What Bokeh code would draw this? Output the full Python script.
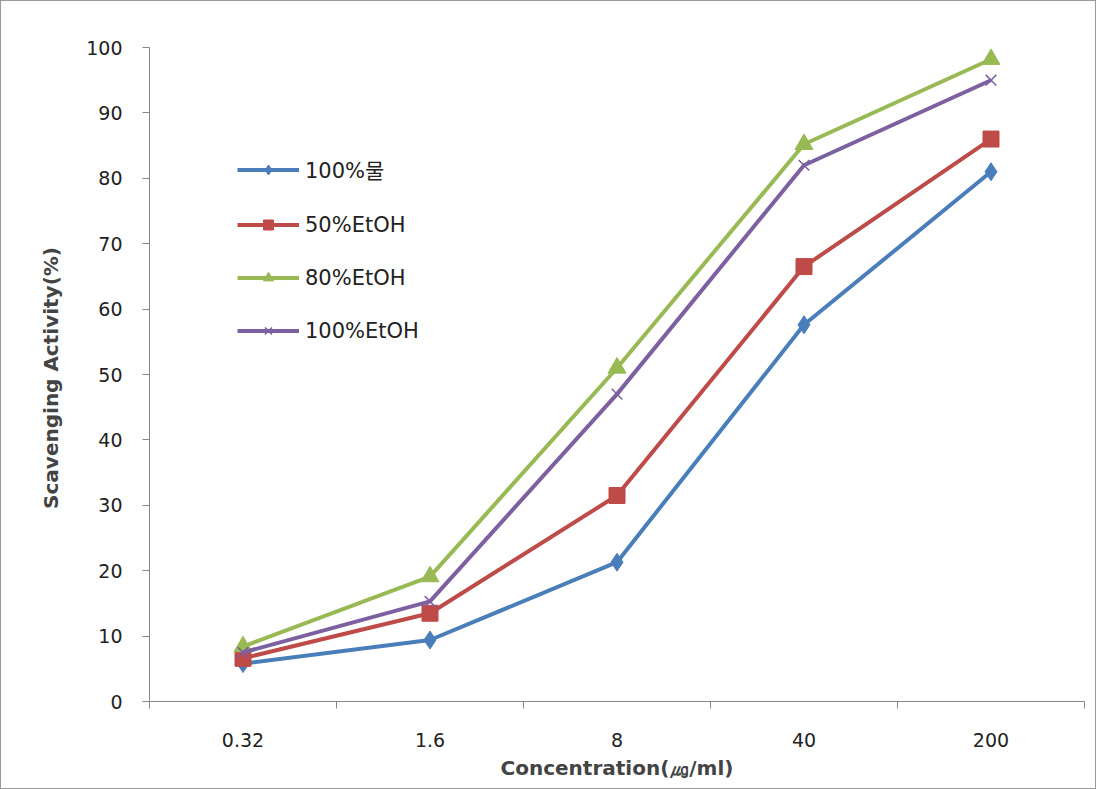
from bokeh.plotting import figure
from bokeh.models import FixedTicker, Legend, LegendItem, Range1d
from bokeh.embed import file_html
from bokeh.resources import INLINE

categories = ["0.32", "1.6", "8", "40", "200"]
water100 = [5.8, 9.4, 21.3, 57.6, 81.0]
etoh50 = [6.6, 13.5, 31.5, 66.5, 86.0]
etoh80 = [8.4, 19.1, 51.0, 85.2, 98.2]
etoh100 = [7.5, 15.3, 47.0, 82.0, 95.0]
series_names = ["100%물", "50%EtOH", "80%EtOH", "100%EtOH"]
colors = ["#4A7EBB", "#BE4B48", "#98B954", "#7D60A0"]

xs = [i + 0.5 for i in range(len(categories))]

p = figure(width=1096, height=789, output_backend="svg", toolbar_location=None,
           x_range=Range1d(0, len(categories)), y_range=Range1d(0, 100),
           min_border_left=148, min_border_right=13, min_border_top=46, min_border_bottom=89)
p.styles = {"border": "1px solid #9a9a9a", "box-sizing": "border-box"}
p.outline_line_color = None
p.xgrid.visible = False
p.ygrid.visible = False
p.background_fill_color = "white"
p.border_fill_color = "white"

tick_font = "DejaVu Sans"
label_font = "DejaVu Sans"

# x axis: labels at category centres, tick marks between categories
p.xaxis.ticker = FixedTicker(ticks=xs, minor_ticks=list(range(len(categories) + 1)))
p.xaxis.major_label_overrides = {x: c for x, c in zip(xs, categories)}
p.xaxis.major_tick_line_color = None
p.xaxis.minor_tick_in = 0
p.xaxis.minor_tick_out = 7
p.xaxis.minor_tick_line_color = "#868686"
p.xaxis.axis_line_color = "#868686"
p.xaxis.major_label_text_font = tick_font
p.xaxis.major_label_text_font_size = "19px"
p.xaxis.major_label_text_color = "#222222"
p.xaxis.major_label_standoff = 24
p.xaxis.axis_label = "Concentration(㎍/ml)"
p.xaxis.axis_label_text_font = label_font
p.xaxis.axis_label_text_font_style = "bold"
p.xaxis.axis_label_text_font_size = "20px"
p.xaxis.axis_label_standoff = 6

p.yaxis.ticker = FixedTicker(ticks=list(range(0, 101, 10)), minor_ticks=[])
p.yaxis.major_tick_in = 0
p.yaxis.major_tick_out = 7
p.yaxis.major_tick_line_color = "#868686"
p.yaxis.axis_line_color = "#868686"
p.yaxis.major_label_text_font = tick_font
p.yaxis.major_label_text_font_size = "19px"
p.yaxis.major_label_text_color = "#222222"
p.yaxis.major_label_standoff = 20
p.yaxis.axis_label = "Scavenging  Activity(%)"
p.yaxis.axis_label_text_font = label_font
p.yaxis.axis_label_text_font_style = "bold"
p.yaxis.axis_label_text_font_size = "20px"
p.yaxis.axis_label_standoff = 20

items = []
lw = 4
r = p.line(xs, water100, line_color=colors[0], line_width=lw)
m = p.scatter(xs, water100, marker="diamond", size=18, fill_color=colors[0], line_color=colors[0])
items.append(LegendItem(label=series_names[0], renderers=[r, m]))
r = p.line(xs, etoh50, line_color=colors[1], line_width=lw)
m = p.scatter(xs, etoh50, marker="square", size=16, fill_color=colors[1], line_color=colors[1])
items.append(LegendItem(label=series_names[1], renderers=[r, m]))
r = p.line(xs, etoh80, line_color=colors[2], line_width=lw)
m = p.scatter(xs, etoh80, marker="triangle", size=18, fill_color=colors[2], line_color=colors[2])
items.append(LegendItem(label=series_names[2], renderers=[r, m]))
r = p.line(xs, etoh100, line_color=colors[3], line_width=lw)
m = p.scatter(xs, etoh100, marker="x", size=15, line_color=colors[3], line_width=1.5)
items.append(LegendItem(label=series_names[3], renderers=[r, m]))

legend = Legend(items=items, location=(88, 358), padding=0, margin=0,
                border_line_color=None, background_fill_alpha=0,
                glyph_width=62, glyph_height=25, label_height=25, spacing=28,
                label_standoff=6,
                label_text_font="DejaVu Sans, Noto Sans CJK KR",
                label_text_font_size="21px", label_text_color="#222222")
p.add_layout(legend)

open("out.html", "w").write(file_html(p, INLINE))
